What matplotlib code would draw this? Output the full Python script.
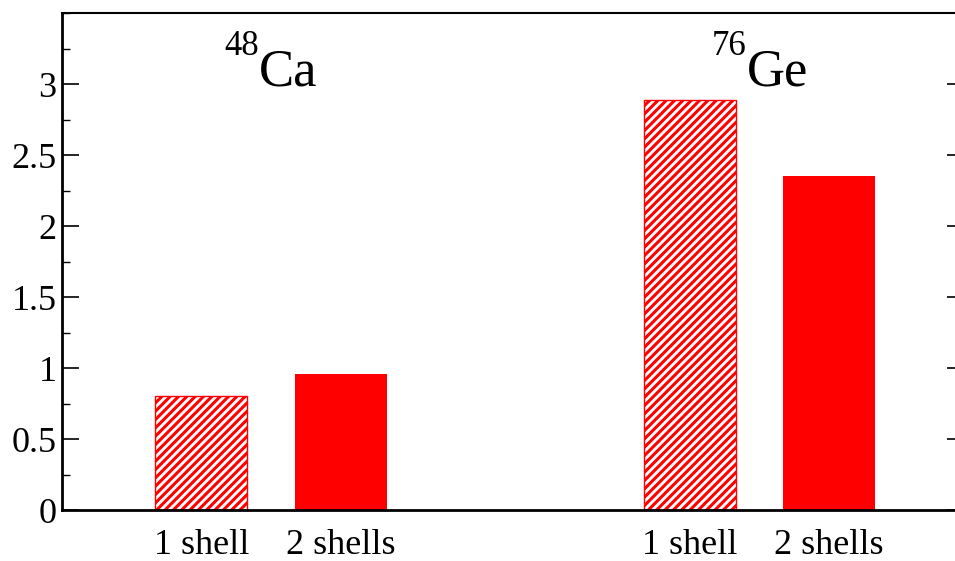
import matplotlib.pyplot as plt
from matplotlib.ticker import MultipleLocator

plt.rcParams["font.family"] = "Liberation Serif"
plt.rcParams["hatch.linewidth"] = 2.2

# two nuclei, each with a 1-shell and a 2-shell result
elements = ["Ca", "Ge"]
mass_numbers = ["48", "76"]
shell_labels = ["1 shell", "2 shells", "1 shell", "2 shells"]
one_shell = [0.80, 2.89]
two_shells = [0.96, 2.35]

pos_one = [1.0, 4.5]
pos_two = [2.0, 5.5]
bar_w = 0.66

fig = plt.figure(figsize=(9.55, 5.61), dpi=100)
ax = fig.add_axes([0.0649, 0.0909, 0.945, 0.8859])

ax.bar(pos_one, one_shell, width=bar_w, color="white", edgecolor="red",
       hatch="////", linewidth=1.0, zorder=2)
ax.bar(pos_two, two_shells, width=bar_w, color="red", edgecolor="red",
       linewidth=0, zorder=2)

# element symbol with the mass number raised in front of it
for sym, mass, x0, x1 in zip(elements, mass_numbers, pos_one, pos_two):
    xc = (x0 + x1) / 2
    ax.annotate(sym, (xc, 2.99), xytext=(-9, 0), textcoords="offset points",
                fontsize=38, ha="left", va="baseline")
    ax.annotate(mass, (xc, 2.99), xytext=(-9, 22), textcoords="offset points",
                fontsize=25, ha="right", va="baseline")

ax.set_xlim(0, 6.47)
ax.set_ylim(0, 3.5)

ax.set_xticks([pos_one[0], pos_two[0], pos_one[1], pos_two[1]])
ax.set_xticklabels(shell_labels)
ax.tick_params(axis="x", length=0, pad=14, labelsize=26)

ax.yaxis.set_minor_locator(MultipleLocator(0.25))
ax.set_yticks([0, 0.5, 1, 1.5, 2, 2.5, 3])
ax.set_yticklabels(["0", "0.5", "1", "1.5", "2", "2.5", "3"])
ax.tick_params(axis="y", which="major", direction="in", length=12,
               width=1.2, labelsize=26, pad=4, right=True)
ax.tick_params(axis="y", which="minor", direction="in", length=6,
               width=1.0, right=False)

for side in ["left", "bottom"]:
    ax.spines[side].set_linewidth(2.0)
for side in ["top", "right"]:
    ax.spines[side].set_linewidth(1.5)

fig.savefig("out.png", dpi=100)
